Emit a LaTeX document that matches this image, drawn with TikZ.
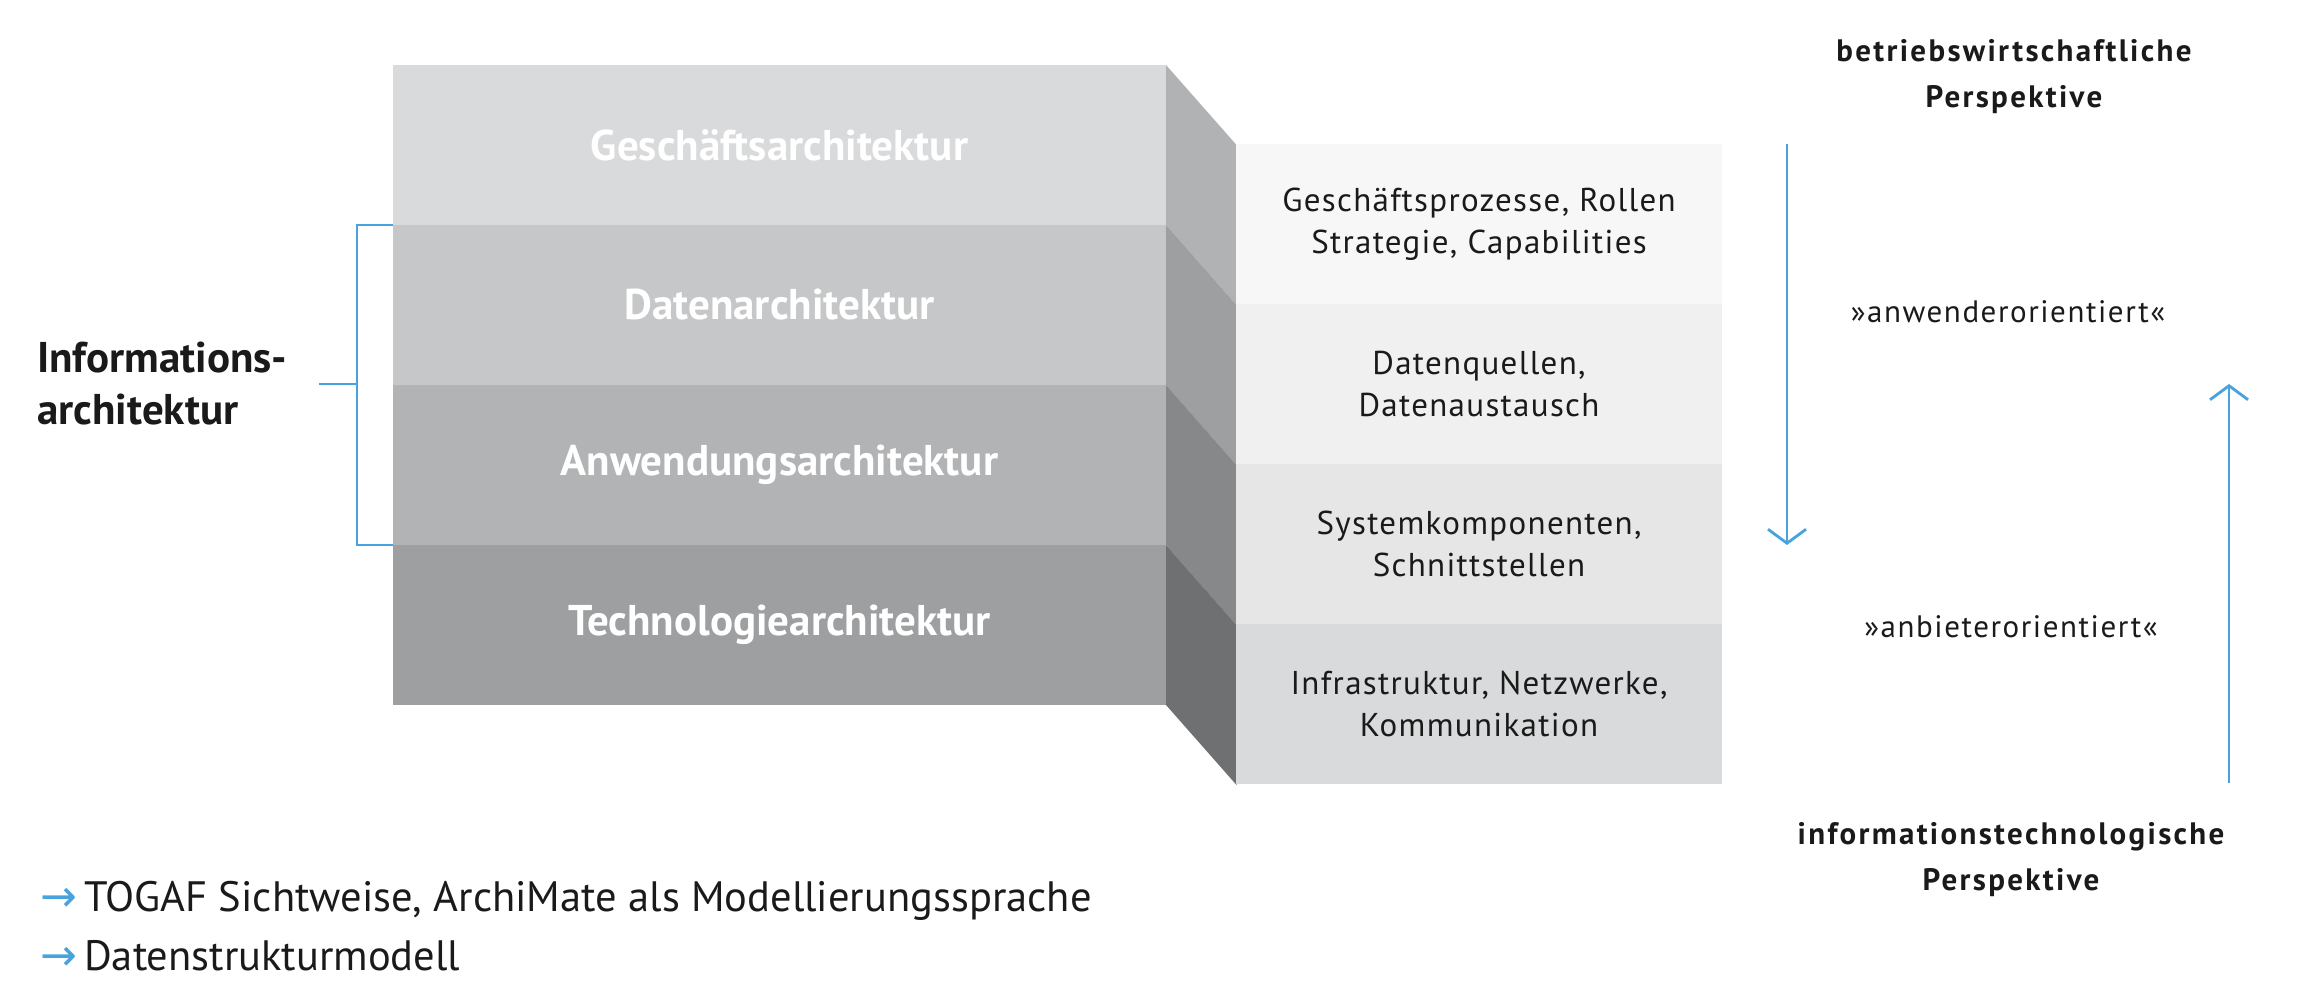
\documentclass[tikz,border=0pt]{standalone}
\usepackage{fontspec}
\setmainfont{PT Sans}
\newfontfamily\arrowfont{DejaVu Sans}
\usetikzlibrary{positioning,arrows.meta}

\definecolor{archblue}{RGB}{72,162,222}
\definecolor{darktext}{HTML}{1A1A1A}
\definecolor{frontA}{HTML}{D9DADB}
\definecolor{frontB}{HTML}{C6C7C8}
\definecolor{frontC}{HTML}{B2B3B4}
\definecolor{frontD}{HTML}{9E9FA0}
\definecolor{sideA}{HTML}{B1B2B3}
\definecolor{sideB}{HTML}{9E9FA0}
\definecolor{sideC}{HTML}{87888A}
\definecolor{sideD}{HTML}{6F7072}
\definecolor{panelA}{HTML}{F7F7F7}
\definecolor{panelB}{HTML}{F0F0F0}
\definecolor{panelC}{HTML}{E6E6E6}
\definecolor{panelD}{HTML}{D9DADB}

\begin{document}
\begin{tikzpicture}[x=1pt,y=1pt]
    \tikzset{
      LayerStyle/.style = { rectangle, inner sep = 0pt, outer sep = 0pt,
                  minimum width = 773pt, minimum height = 160pt,
                  text = white, font = \fontsize{43}{50}\selectfont\bfseries },
      DetailStyle/.style = { rectangle, inner sep = 0pt, outer sep = 0pt,
                  minimum width = 486pt, minimum height = 160pt,
                  align = center, text = darktext,
                  font = \fontsize{33}{42}\selectfont\addfontfeature{LetterSpace=4} },
      ViewStyle/.style = { align = center, text = darktext,
                  font = \fontsize{31}{46}\selectfont\bfseries\addfontfeature{LetterSpace=7.5} },
      OrientStyle/.style = { text = darktext,
                  font = \fontsize{31}{40}\selectfont\addfontfeature{LetterSpace=5} },
      BracketStyle/.style = { draw = archblue, line width = 2.5pt },
      FlowStyle/.style = { draw = archblue, line width = 2.8pt,
                  -{Straight Barb[length=14pt,width=38pt]} } }
      \useasboundingbox (0,0) rectangle (2298,982);

      % front of the block
      \node[LayerStyle, fill=frontA] (geschaeft) at (779.5,837) {Geschäftsarchitektur};
      \node[LayerStyle, fill=frontB, below=0pt of geschaeft] (daten) {Datenarchitektur};
      \node[LayerStyle, fill=frontC, below=0pt of daten] (anwendung) {Anwendungsarchitektur};
      \node[LayerStyle, fill=frontD, below=0pt of anwendung] (technologie) {Technologiearchitektur};

      % side faces
      \fill[sideA] (geschaeft.north east) -- ++(70.5,-80) -- ++(0,-160) -- (geschaeft.south east) -- cycle;
      \fill[sideB] (daten.north east) -- ++(70.5,-80) -- ++(0,-160) -- (daten.south east) -- cycle;
      \fill[sideC] (anwendung.north east) -- ++(70.5,-80) -- ++(0,-160) -- (anwendung.south east) -- cycle;
      \fill[sideD] (technologie.north east) -- ++(70.5,-80) -- ++(0,-160) -- (technologie.south east) -- cycle;

      % details
      \node[DetailStyle, fill=panelA] (prozesse) at (1479,758) {Geschäftsprozesse, Rollen\\Strategie, Capabilities};
      \node[DetailStyle, fill=panelB, below=0pt of prozesse] (quellen) {Datenquellen,\\Datenaustausch};
      \node[DetailStyle, fill=panelC, below=0pt of quellen] (komponenten) {Systemkomponenten,\\Schnittstellen};
      \node[DetailStyle, fill=panelD, below=0pt of komponenten] (infra) {Infrastruktur, Netzwerke,\\Kommunikation};

      % information architecture bracket
      \node[anchor=west, inner sep=0pt, align=left, text=darktext,
            font=\fontsize{43}{52}\selectfont\bfseries] (info) at (37,598) {Informations-\\architektur};
      \draw[BracketStyle] (daten.north west) -- ++(-36,0) coordinate (brtop) |- (anwendung.south west);
      \draw[BracketStyle] ([xshift=31pt]info.east) -- (info.east -| brtop);

      % perspectives
      \node[ViewStyle] (betrieb) at (2014,905) {betriebswirtschaftliche\\Perspektive};
      \node[ViewStyle] (itview) at (2011,122) {informationstechnologische\\Perspektive};
      \node[OrientStyle] (anwender) at (2008,670) {»anwenderorientiert«};
      \node[OrientStyle] (anbieter) at (2011,355) {»anbieterorientiert«};

      \coordinate (downtop) at (1787,838);
      \coordinate (downtip) at (1787,437);
      \coordinate (upfoot) at (2229,199);
      \coordinate (uptip) at (2229,598);
      \draw[FlowStyle] (downtop) -- (downtip);
      \draw[FlowStyle] (upfoot) -- (uptip);

      % notes
      \node[anchor=west, inner sep=0pt, align=left, text=darktext,
            font=\fontsize{42.5}{59}\selectfont] (notes) at (40,56)
            {{\arrowfont\fontsize{44}{44}\selectfont\textcolor{archblue}{→}}\,TOGAF Sichtweise, ArchiMate als Modellierungssprache\\
             {\arrowfont\fontsize{44}{44}\selectfont\textcolor{archblue}{→}}\,Datenstrukturmodell};
\end{tikzpicture}
\end{document}
